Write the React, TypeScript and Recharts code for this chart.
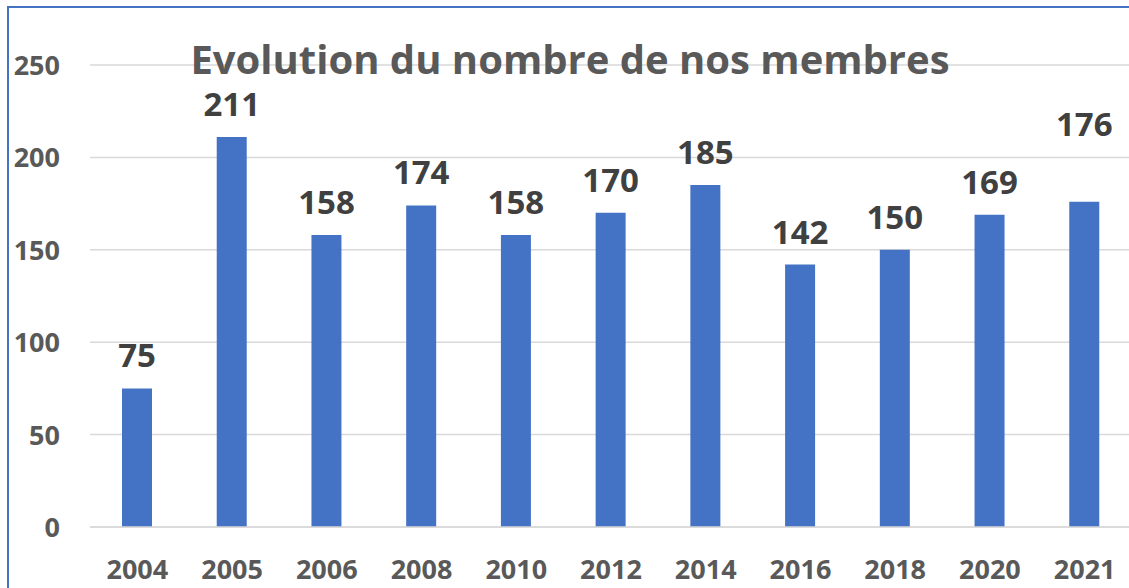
import React from 'react';
import { BarChart, Bar, XAxis, YAxis, CartesianGrid, LabelList } from 'recharts';

const years = ['2004', '2005', '2006', '2008', '2010', '2012', '2014', '2016', '2018', '2020', '2021'];
const members = [75, 211, 158, 174, 158, 170, 185, 142, 150, 169, 176];
const yTicks = [0, 50, 100, 150, 200, 250];

const data = years.map((year, i) => ({ year, members: members[i] }));

const FONT = '"Open Sans", sans-serif';
const AXIS_GREY = '#595959';
const LABEL_GREY = '#404040';
const BAR_BLUE = '#4472C4';

function YTick(props: any) {
  const { y, payload } = props;
  return (
    <text x={60} y={y + 10} textAnchor="end" fontFamily={FONT} fontWeight={700} fontSize={27} fill={AXIS_GREY}>
      {payload.value}
    </text>
  );
}

function XTick(props: any) {
  const { x, payload } = props;
  return (
    <text x={x} y={579} textAnchor="middle" fontFamily={FONT} fontWeight={700} fontSize={27} fill={AXIS_GREY}>
      {payload.value}
    </text>
  );
}

function ValueLabel(props: any) {
  const { x, y, width, value, index } = props;
  // the last label was dragged up in the original workbook
  const lift = index === members.length - 1 ? 45 : 0;
  return (
    <text
      x={x + width / 2}
      y={y - 21 - lift}
      textAnchor="middle"
      fontFamily={FONT}
      fontWeight={700}
      fontSize={33}
      fill={LABEL_GREY}
    >
      {value}
    </text>
  );
}

export default function App() {
  return (
    <div style={{ position: 'absolute', left: 0, top: 0, width: 1129, height: 588, background: '#fff', overflow: 'hidden' }}>
      {/* frame of the chart area, only left and top edges are visible */}
      <div
        style={{
          position: 'absolute',
          left: 7,
          top: 6,
          width: 1200,
          height: 700,
          borderLeft: `2px solid ${BAR_BLUE}`,
          borderTop: `2px solid ${BAR_BLUE}`,
        }}
      />
      <div style={{ position: 'absolute', left: 0, top: 0 }}>
        <BarChart width={1132} height={588} data={data} margin={{ top: 65, right: 0, bottom: 0, left: 0 }} barSize={30}>
          <CartesianGrid vertical={false} stroke="#D9D9D9" strokeWidth={1.5} />
          <XAxis
            dataKey="year"
            height={61}
            axisLine={{ stroke: '#D9D9D9', strokeWidth: 1.5 }}
            tickLine={false}
            tick={<XTick />}
            interval={0}
          />
          <YAxis
            width={90}
            domain={[0, 250]}
            ticks={yTicks}
            axisLine={false}
            tickLine={false}
            tick={<YTick />}
          />
          <Bar dataKey="members" fill={BAR_BLUE} isAnimationActive={false}>
            <LabelList dataKey="members" content={<ValueLabel />} />
          </Bar>
        </BarChart>
      </div>
      <svg style={{ position: 'absolute', left: 0, top: 0 }} width={1129} height={588}>
        <text x={570} y={74} textAnchor="middle" fontFamily={FONT} fontWeight={700} fontSize={40} fill={AXIS_GREY}>
          Evolution du nombre de nos membres
        </text>
      </svg>
    </div>
  );
}
